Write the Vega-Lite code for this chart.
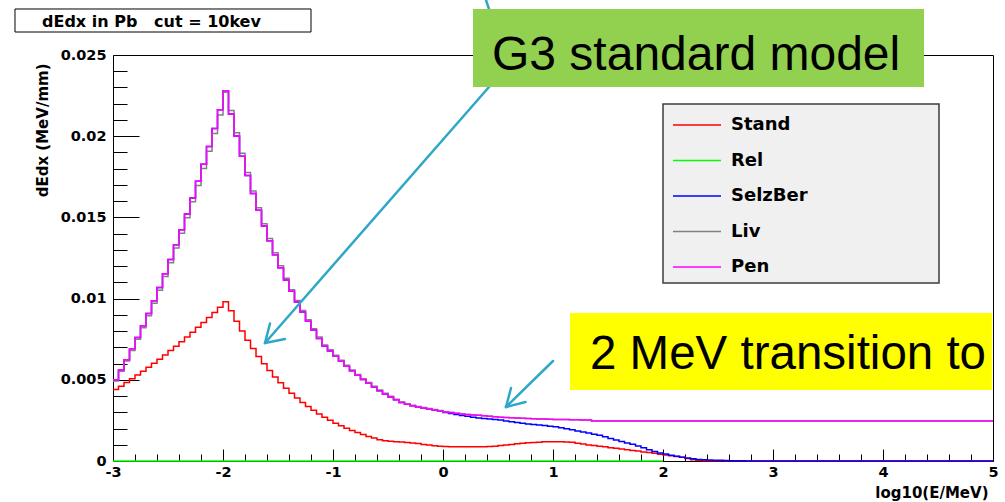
{
"$schema": "https://vega.github.io/schema/vega-lite/v6.json",
"width": 880, "height": 406,
"autosize": {"type": "none"},
"padding": {"left": 113, "top": 55, "right": 12, "bottom": 41},
"background": "#ffffff",
"config": {
  "view": {"stroke": "#000000", "strokeWidth": 1},
  "axis": {"grid": false, "domain": false, "tickColor": "#000000", "tickWidth": 1, "labelColor": "#000000", "titleColor": "#000000", "labelFont": "DejaVu Sans", "labelFontWeight": "bold", "labelFontSize": 14.5, "titleFont": "DejaVu Sans", "titleFontWeight": "bold", "titleFontSize": 15}
},
"datasets": {"h": [
{"x":-3,"Stand":0.0044,"Rel":0,"SelzBer":0.005,"Liv":0.00493,"Pen":0.005},
{"x":-2.95,"Stand":0.00461,"Rel":0,"SelzBer":0.00561,"Liv":0.00553,"Pen":0.00561},
{"x":-2.9,"Stand":0.00483,"Rel":0,"SelzBer":0.00624,"Liv":0.00615,"Pen":0.00624},
{"x":-2.85,"Stand":0.00506,"Rel":0,"SelzBer":0.00691,"Liv":0.00681,"Pen":0.00691},
{"x":-2.8,"Stand":0.00529,"Rel":0,"SelzBer":0.0076,"Liv":0.00749,"Pen":0.0076},
{"x":-2.75,"Stand":0.00553,"Rel":0,"SelzBer":0.00833,"Liv":0.00821,"Pen":0.00833},
{"x":-2.7,"Stand":0.00577,"Rel":0,"SelzBer":0.00908,"Liv":0.00894,"Pen":0.00908},
{"x":-2.65,"Stand":0.00602,"Rel":0,"SelzBer":0.00987,"Liv":0.00972,"Pen":0.00987},
{"x":-2.6,"Stand":0.00627,"Rel":0,"SelzBer":0.01068,"Liv":0.01052,"Pen":0.01068},
{"x":-2.55,"Stand":0.00653,"Rel":0,"SelzBer":0.01153,"Liv":0.01136,"Pen":0.01153},
{"x":-2.5,"Stand":0.0068,"Rel":0,"SelzBer":0.0124,"Liv":0.01221,"Pen":0.0124},
{"x":-2.45,"Stand":0.00707,"Rel":0,"SelzBer":0.01331,"Liv":0.01311,"Pen":0.01331},
{"x":-2.4,"Stand":0.00735,"Rel":0,"SelzBer":0.01424,"Liv":0.01403,"Pen":0.01424},
{"x":-2.35,"Stand":0.00764,"Rel":0,"SelzBer":0.01521,"Liv":0.01498,"Pen":0.01521},
{"x":-2.3,"Stand":0.00793,"Rel":0,"SelzBer":0.0162,"Liv":0.01596,"Pen":0.0162},
{"x":-2.25,"Stand":0.00823,"Rel":0,"SelzBer":0.01723,"Liv":0.01697,"Pen":0.01723},
{"x":-2.2,"Stand":0.00853,"Rel":0,"SelzBer":0.01828,"Liv":0.01801,"Pen":0.01828},
{"x":-2.15,"Stand":0.00884,"Rel":0,"SelzBer":0.01937,"Liv":0.01908,"Pen":0.01937},
{"x":-2.1,"Stand":0.00915,"Rel":0,"SelzBer":0.02048,"Liv":0.02017,"Pen":0.02048},
{"x":-2.05,"Stand":0.00947,"Rel":0,"SelzBer":0.02163,"Liv":0.02131,"Pen":0.02163},
{"x":-2,"Stand":0.0098,"Rel":0,"SelzBer":0.0228,"Liv":0.0227,"Pen":0.0228},
{"x":-1.95,"Stand":0.00925,"Rel":0,"SelzBer":0.02137,"Liv":0.02158,"Pen":0.02137},
{"x":-1.9,"Stand":0.0086,"Rel":0,"SelzBer":0.02002,"Liv":0.02022,"Pen":0.02002},
{"x":-1.85,"Stand":0.008,"Rel":0,"SelzBer":0.01876,"Liv":0.01895,"Pen":0.01876},
{"x":-1.8,"Stand":0.00744,"Rel":0,"SelzBer":0.01758,"Liv":0.01776,"Pen":0.01758},
{"x":-1.75,"Stand":0.00692,"Rel":0,"SelzBer":0.01647,"Liv":0.01663,"Pen":0.01647},
{"x":-1.7,"Stand":0.00644,"Rel":0,"SelzBer":0.01544,"Liv":0.01559,"Pen":0.01544},
{"x":-1.65,"Stand":0.00599,"Rel":0,"SelzBer":0.01447,"Liv":0.01461,"Pen":0.01447},
{"x":-1.6,"Stand":0.00557,"Rel":0,"SelzBer":0.01356,"Liv":0.0137,"Pen":0.01356},
{"x":-1.55,"Stand":0.00518,"Rel":0,"SelzBer":0.0127,"Liv":0.01283,"Pen":0.0127},
{"x":-1.5,"Stand":0.00482,"Rel":0,"SelzBer":0.0119,"Liv":0.01202,"Pen":0.0119},
{"x":-1.45,"Stand":0.00448,"Rel":0,"SelzBer":0.01115,"Liv":0.01126,"Pen":0.01115},
{"x":-1.4,"Stand":0.00417,"Rel":0,"SelzBer":0.01045,"Liv":0.01055,"Pen":0.01045},
{"x":-1.35,"Stand":0.00388,"Rel":0,"SelzBer":0.00979,"Liv":0.00989,"Pen":0.00979},
{"x":-1.3,"Stand":0.0036,"Rel":0,"SelzBer":0.00918,"Liv":0.00927,"Pen":0.00918},
{"x":-1.25,"Stand":0.00335,"Rel":0,"SelzBer":0.0086,"Liv":0.00869,"Pen":0.0086},
{"x":-1.2,"Stand":0.00312,"Rel":0,"SelzBer":0.00806,"Liv":0.00814,"Pen":0.00806},
{"x":-1.15,"Stand":0.0029,"Rel":0,"SelzBer":0.00755,"Liv":0.00763,"Pen":0.00755},
{"x":-1.1,"Stand":0.0027,"Rel":0,"SelzBer":0.00708,"Liv":0.00715,"Pen":0.00708},
{"x":-1.05,"Stand":0.00251,"Rel":0,"SelzBer":0.00678,"Liv":0.00685,"Pen":0.00678},
{"x":-1,"Stand":0.00233,"Rel":0,"SelzBer":0.00645,"Liv":0.00651,"Pen":0.00645},
{"x":-0.95,"Stand":0.00217,"Rel":0,"SelzBer":0.00614,"Liv":0.0062,"Pen":0.00614},
{"x":-0.9,"Stand":0.00202,"Rel":0,"SelzBer":0.00584,"Liv":0.0059,"Pen":0.00584},
{"x":-0.85,"Stand":0.00188,"Rel":0,"SelzBer":0.00555,"Liv":0.00561,"Pen":0.00555},
{"x":-0.8,"Stand":0.00175,"Rel":0,"SelzBer":0.00528,"Liv":0.00533,"Pen":0.00528},
{"x":-0.75,"Stand":0.00163,"Rel":0,"SelzBer":0.00502,"Liv":0.00507,"Pen":0.00502},
{"x":-0.7,"Stand":0.00151,"Rel":0,"SelzBer":0.00478,"Liv":0.00483,"Pen":0.00478},
{"x":-0.65,"Stand":0.00141,"Rel":0,"SelzBer":0.00455,"Liv":0.0046,"Pen":0.00455},
{"x":-0.6,"Stand":0.00131,"Rel":0,"SelzBer":0.00433,"Liv":0.00437,"Pen":0.00433},
{"x":-0.55,"Stand":0.00125,"Rel":0,"SelzBer":0.00413,"Liv":0.00417,"Pen":0.00413},
{"x":-0.5,"Stand":0.00122,"Rel":0,"SelzBer":0.00394,"Liv":0.00398,"Pen":0.00394},
{"x":-0.45,"Stand":0.00119,"Rel":0,"SelzBer":0.00377,"Liv":0.00381,"Pen":0.00377},
{"x":-0.4,"Stand":0.00117,"Rel":0,"SelzBer":0.0036,"Liv":0.00364,"Pen":0.0036},
{"x":-0.35,"Stand":0.00114,"Rel":0,"SelzBer":0.00349,"Liv":0.00352,"Pen":0.00349},
{"x":-0.3,"Stand":0.00111,"Rel":0,"SelzBer":0.0034,"Liv":0.00343,"Pen":0.0034},
{"x":-0.25,"Stand":0.00107,"Rel":0,"SelzBer":0.00333,"Liv":0.00336,"Pen":0.00333},
{"x":-0.2,"Stand":0.00102,"Rel":0,"SelzBer":0.00326,"Liv":0.00329,"Pen":0.00326},
{"x":-0.15,"Stand":0.00098,"Rel":0,"SelzBer":0.0032,"Liv":0.00323,"Pen":0.0032},
{"x":-0.1,"Stand":0.00094,"Rel":0,"SelzBer":0.00314,"Liv":0.00317,"Pen":0.00314},
{"x":-0.05,"Stand":0.00091,"Rel":0,"SelzBer":0.00308,"Liv":0.00311,"Pen":0.00308},
{"x":0,"Stand":0.00089,"Rel":0,"SelzBer":0.00298,"Liv":0.00304,"Pen":0.00302},
{"x":0.05,"Stand":0.00088,"Rel":0,"SelzBer":0.00293,"Liv":0.00298,"Pen":0.00298},
{"x":0.1,"Stand":0.00088,"Rel":0,"SelzBer":0.00287,"Liv":0.00294,"Pen":0.00294},
{"x":0.15,"Stand":0.00088,"Rel":0,"SelzBer":0.0028,"Liv":0.0029,"Pen":0.0029},
{"x":0.2,"Stand":0.00088,"Rel":0,"SelzBer":0.00275,"Liv":0.00287,"Pen":0.00287},
{"x":0.25,"Stand":0.00088,"Rel":0,"SelzBer":0.0027,"Liv":0.00284,"Pen":0.00284},
{"x":0.3,"Stand":0.00088,"Rel":0,"SelzBer":0.00265,"Liv":0.00281,"Pen":0.00281},
{"x":0.35,"Stand":0.00088,"Rel":0,"SelzBer":0.00261,"Liv":0.00278,"Pen":0.00278},
{"x":0.4,"Stand":0.00089,"Rel":0,"SelzBer":0.00258,"Liv":0.00276,"Pen":0.00276},
{"x":0.45,"Stand":0.00091,"Rel":0,"SelzBer":0.00255,"Liv":0.00273,"Pen":0.00273},
{"x":0.5,"Stand":0.00095,"Rel":0,"SelzBer":0.00252,"Liv":0.0027,"Pen":0.0027},
{"x":0.55,"Stand":0.00099,"Rel":0,"SelzBer":0.00247,"Liv":0.00268,"Pen":0.00268},
{"x":0.6,"Stand":0.00102,"Rel":0,"SelzBer":0.00242,"Liv":0.00266,"Pen":0.00266},
{"x":0.65,"Stand":0.00106,"Rel":0,"SelzBer":0.00237,"Liv":0.00265,"Pen":0.00265},
{"x":0.7,"Stand":0.00109,"Rel":0,"SelzBer":0.00232,"Liv":0.00263,"Pen":0.00263},
{"x":0.75,"Stand":0.00112,"Rel":0,"SelzBer":0.00228,"Liv":0.00261,"Pen":0.00261},
{"x":0.8,"Stand":0.00114,"Rel":0,"SelzBer":0.00225,"Liv":0.0026,"Pen":0.0026},
{"x":0.85,"Stand":0.00116,"Rel":0,"SelzBer":0.00222,"Liv":0.00259,"Pen":0.00259},
{"x":0.9,"Stand":0.00118,"Rel":0,"SelzBer":0.00218,"Liv":0.00258,"Pen":0.00258},
{"x":0.95,"Stand":0.00119,"Rel":0,"SelzBer":0.00214,"Liv":0.00257,"Pen":0.00257},
{"x":1,"Stand":0.00119,"Rel":0,"SelzBer":0.00211,"Liv":0.00256,"Pen":0.00256},
{"x":1.05,"Stand":0.00118,"Rel":0,"SelzBer":0.00205,"Liv":0.00256,"Pen":0.00256},
{"x":1.1,"Stand":0.00117,"Rel":0,"SelzBer":0.00199,"Liv":0.00255,"Pen":0.00255},
{"x":1.15,"Stand":0.00115,"Rel":0,"SelzBer":0.00192,"Liv":0.00254,"Pen":0.00254},
{"x":1.2,"Stand":0.0011,"Rel":0,"SelzBer":0.00185,"Liv":0.00254,"Pen":0.00254},
{"x":1.25,"Stand":0.00105,"Rel":0,"SelzBer":0.00179,"Liv":0.00253,"Pen":0.00253},
{"x":1.3,"Stand":0.00099,"Rel":0,"SelzBer":0.00172,"Liv":0.00252,"Pen":0.00252},
{"x":1.35,"Stand":0.00095,"Rel":0,"SelzBer":0.00165,"Liv":0.00246,"Pen":0.00246},
{"x":1.4,"Stand":0.00091,"Rel":0,"SelzBer":0.00158,"Liv":0.00246,"Pen":0.00246},
{"x":1.45,"Stand":0.00087,"Rel":0,"SelzBer":0.0015,"Liv":0.00246,"Pen":0.00246},
{"x":1.5,"Stand":0.00082,"Rel":0,"SelzBer":0.00139,"Liv":0.00246,"Pen":0.00246},
{"x":1.55,"Stand":0.00078,"Rel":0,"SelzBer":0.00129,"Liv":0.00246,"Pen":0.00246},
{"x":1.6,"Stand":0.00074,"Rel":0,"SelzBer":0.0012,"Liv":0.00246,"Pen":0.00246},
{"x":1.65,"Stand":0.00069,"Rel":0,"SelzBer":0.00111,"Liv":0.00246,"Pen":0.00246},
{"x":1.7,"Stand":0.00065,"Rel":0,"SelzBer":0.00103,"Liv":0.00246,"Pen":0.00246},
{"x":1.75,"Stand":0.00061,"Rel":0,"SelzBer":0.00093,"Liv":0.00246,"Pen":0.00246},
{"x":1.8,"Stand":0.00056,"Rel":0,"SelzBer":0.00081,"Liv":0.00246,"Pen":0.00246},
{"x":1.85,"Stand":0.00052,"Rel":0,"SelzBer":0.00069,"Liv":0.00246,"Pen":0.00246},
{"x":1.9,"Stand":0.00047,"Rel":0,"SelzBer":0.00059,"Liv":0.00246,"Pen":0.00246},
{"x":1.95,"Stand":0.00042,"Rel":0,"SelzBer":0.0005,"Liv":0.00246,"Pen":0.00246},
{"x":2,"Stand":0.00037,"Rel":0,"SelzBer":0.00043,"Liv":0.00246,"Pen":0.00246},
{"x":2.05,"Stand":0.00032,"SelzBer":0.00036,"Liv":0.00246,"Pen":0.00246},
{"x":2.1,"Stand":0.00027,"SelzBer":0.00029,"Liv":0.00246,"Pen":0.00246},
{"x":2.15,"Stand":0.00023,"SelzBer":0.00023,"Liv":0.00246,"Pen":0.00246},
{"x":2.2,"Stand":0.00015,"SelzBer":0.00018,"Liv":0.00246,"Pen":0.00246},
{"x":2.25,"Stand":0.00008,"SelzBer":0.00014,"Liv":0.00246,"Pen":0.00246},
{"x":2.3,"Stand":0.00004,"SelzBer":0.0001,"Liv":0.00246,"Pen":0.00246},
{"x":2.35,"Stand":0.00002,"SelzBer":0.00008,"Liv":0.00246,"Pen":0.00246},
{"x":2.4,"Stand":0.00001,"SelzBer":0.00006,"Liv":0.00246,"Pen":0.00246},
{"x":2.45,"Stand":0.00001,"SelzBer":0.00005,"Liv":0.00246,"Pen":0.00246},
{"x":2.5,"Stand":0.00001,"SelzBer":0.00004,"Liv":0.00246,"Pen":0.00246},
{"x":2.55,"Stand":0.00001,"SelzBer":0.00003,"Liv":0.00246,"Pen":0.00246},
{"x":2.6,"Stand":0.00001,"SelzBer":0.00002,"Liv":0.00246,"Pen":0.00246},
{"x":2.65,"Stand":0.00001,"SelzBer":0.00002,"Liv":0.00246,"Pen":0.00246},
{"x":2.7,"Stand":0.00001,"SelzBer":0.00001,"Liv":0.00246,"Pen":0.00246},
{"x":2.75,"Stand":0,"SelzBer":0,"Liv":0.00246,"Pen":0.00246},
{"x":5,"Stand":0,"SelzBer":0,"Liv":0.00246,"Pen":0.00246}
]},
"resolve": {"axis": {"x": "independent", "y": "independent"}},
"layer": [
  {
    "data": {"name": "h"},
    "transform": [
      {"fold": ["Stand", "Rel", "SelzBer", "Liv", "Pen"], "as": ["series", "dEdx"]},
      {"filter": "isValid(datum.dEdx)"}
    ],
    "mark": {"type": "line", "interpolate": "step-after", "strokeWidth": 1.5},
    "encoding": {
      "x": {"field": "x", "type": "quantitative",
        "scale": {"domain": [-3, 5], "nice": false, "zero": false},
        "axis": {"orient": "bottom", "values": [-3, -2, -1, 0, 1, 2, 3, 4, 5], "labelExpr": "datum.value + ''", "tickSize": -12, "labelPadding": 16, "labelFlush": false, "labelOverlap": false,
          "title": "log10(E/MeV)", "titleAnchor": "end", "titleAlign": "right", "titleBaseline": "middle", "titleX": 875, "titleY": 31}},
      "y": {"field": "dEdx", "type": "quantitative",
        "scale": {"domain": [0, 0.025], "nice": false, "zero": false},
        "axis": {"orient": "left", "values": [0, 0.005, 0.01, 0.015, 0.02, 0.025], "format": ".3~f", "tickSize": -26, "labelPadding": 33, "labelFlush": false, "labelOverlap": false,
          "title": "dEdx (MeV/mm)", "titleAngle": 270, "titleAlign": "right", "titleBaseline": "middle", "titleX": -71, "titleY": 8}},
      "color": {"field": "series", "type": "nominal",
        "scale": {"domain": ["Stand", "Rel", "SelzBer", "Liv", "Pen"], "range": ["#ff0000", "#00ff00", "#0000ff", "#808080", "#ff00ff"]},
        "legend": {"orient": "none", "legendX": 550, "legendY": 51, "title": null,
          "symbolType": "M-2,0H2", "symbolSize": 576, "symbolStrokeWidth": 1.5, "symbolOffset": 15,
          "labelOffset": 21, "labelFont": "DejaVu Sans", "labelFontWeight": "bold", "labelFontSize": 18, "labelColor": "#000000", "labelLimit": 600,
          "rowPadding": 13.5, "padding": 6}}
    }
  },
  {
    "data": {"values": [{}]},
    "mark": {"type": "point", "opacity": 0},
    "encoding": {
      "x": {"datum": 0, "type": "quantitative",
        "axis": {"orient": "bottom", "values": [-2.8, -2.6, -2.4, -2.2, -1.8, -1.6, -1.4, -1.2, -0.8, -0.6, -0.4, -0.2, 0.2, 0.4, 0.6, 0.8, 1.2, 1.4, 1.6, 1.8, 2.2, 2.4, 2.6, 2.8, 3.2, 3.4, 3.6, 3.8, 4.2, 4.4, 4.6, 4.8], "tickSize": -7, "labels": false, "title": null}},
      "y": {"datum": 0, "type": "quantitative",
        "axis": {"orient": "left", "values": [0.001, 0.002, 0.003, 0.004, 0.006, 0.007, 0.008, 0.009, 0.011, 0.012, 0.013, 0.014, 0.016, 0.017, 0.018, 0.019, 0.021, 0.022, 0.023, 0.024], "tickSize": -14, "labels": false, "title": null}}
    }
  },
  {
    "data": {"values": [{}]},
    "mark": {"type": "rect", "fill": "#f0f0f0", "stroke": "#3c3c3c", "strokeWidth": 1.5},
    "encoding": {"x": {"datum": 2.0, "type": "quantitative", "axis": null}, "x2": {"datum": 4.50909}, "y": {"datum": 0.021983, "type": "quantitative", "axis": null}, "y2": {"datum": 0.010961}}
  },
  {
    "data": {"values": [{}]},
    "mark": {"type": "rule", "stroke": "#2fa8c8", "strokeWidth": 2.5, "strokeCap": "round"},
    "encoding": {"x": {"datum": 0.41818, "type": "quantitative", "axis": null}, "y": {"datum": 0.02303, "type": "quantitative", "axis": null}, "x2": {"datum": -1.61818}, "y2": {"datum": 0.007266}}
  },
  {
    "data": {"values": [{}]},
    "mark": {"type": "rule", "stroke": "#2fa8c8", "strokeWidth": 2.5, "strokeCap": "round"},
    "encoding": {"x": {"datum": -1.61818, "type": "quantitative", "axis": null}, "y": {"datum": 0.007266, "type": "quantitative", "axis": null}, "x2": {"datum": -1.57273}, "y2": {"datum": 0.008467}}
  },
  {
    "data": {"values": [{}]},
    "mark": {"type": "rule", "stroke": "#2fa8c8", "strokeWidth": 2.5, "strokeCap": "round"},
    "encoding": {"x": {"datum": -1.61818, "type": "quantitative", "axis": null}, "y": {"datum": 0.007266, "type": "quantitative", "axis": null}, "x2": {"datum": -1.43636}, "y2": {"datum": 0.007512}}
  },
  {
    "data": {"values": [{}]},
    "mark": {"type": "rule", "stroke": "#2fa8c8", "strokeWidth": 2.5, "strokeCap": "round"},
    "encoding": {"x": {"datum": 0.39091, "type": "quantitative", "axis": null}, "y": {"datum": 0.028387, "type": "quantitative", "axis": null}, "x2": {"datum": 0.41818}, "y2": {"datum": 0.027833}}
  },
  {
    "data": {"values": [{}]},
    "mark": {"type": "rule", "stroke": "#2fa8c8", "strokeWidth": 2.5, "strokeCap": "round"},
    "encoding": {"x": {"datum": 1.0, "type": "quantitative", "axis": null}, "y": {"datum": 0.006158, "type": "quantitative", "axis": null}, "x2": {"datum": 0.57273}, "y2": {"datum": 0.003325}}
  },
  {
    "data": {"values": [{}]},
    "mark": {"type": "rule", "stroke": "#2fa8c8", "strokeWidth": 2.5, "strokeCap": "round"},
    "encoding": {"x": {"datum": 0.57273, "type": "quantitative", "axis": null}, "y": {"datum": 0.003325, "type": "quantitative", "axis": null}, "x2": {"datum": 0.61818}, "y2": {"datum": 0.004495}}
  },
  {
    "data": {"values": [{}]},
    "mark": {"type": "rule", "stroke": "#2fa8c8", "strokeWidth": 2.5, "strokeCap": "round"},
    "encoding": {"x": {"datum": 0.57273, "type": "quantitative", "axis": null}, "y": {"datum": 0.003325, "type": "quantitative", "axis": null}, "x2": {"datum": 0.75}, "y2": {"datum": 0.003633}}
  },
  {
    "data": {"values": [{}]},
    "mark": {"type": "rect", "fill": "#ffffff", "stroke": "#000000", "strokeWidth": 1},
    "encoding": {"x": {"datum": -3.89091, "type": "quantitative", "axis": null}, "x2": {"datum": -1.2}, "y": {"datum": 0.027833, "type": "quantitative", "axis": null}, "y2": {"datum": 0.026416}}
  },
  {
    "data": {"values": [{}]},
    "mark": {"type": "text", "font": "DejaVu Sans", "fontWeight": "bold", "fontSize": 16, "align": "left", "baseline": "alphabetic", "color": "#000000"},
    "encoding": {"x": {"datum": -3.64545, "type": "quantitative", "axis": null}, "y": {"datum": 0.026724, "type": "quantitative", "axis": null}, "text": {"value": "dEdx in Pb\u00a0\u00a0\u00a0cut = 10kev"}}
  },
  {
    "data": {"values": [{}]},
    "mark": {"type": "rect", "fill": "#92d050", "strokeWidth": 0},
    "encoding": {"x": {"datum": 0.27273, "type": "quantitative", "axis": null}, "x2": {"datum": 4.37273}, "y": {"datum": 0.027832, "type": "quantitative", "axis": null}, "y2": {"datum": 0.02303}}
  },
  {
    "data": {"values": [{}]},
    "mark": {"type": "text", "font": "Liberation Sans", "fontSize": 48, "align": "left", "baseline": "alphabetic", "color": "#000000"},
    "encoding": {"x": {"datum": 0.44545, "type": "quantitative", "axis": null}, "y": {"datum": 0.024107, "type": "quantitative", "axis": null}, "text": {"value": "G3 standard model"}}
  },
  {
    "data": {"values": [{}]},
    "mark": {"type": "rect", "fill": "#ffff00", "strokeWidth": 0},
    "encoding": {"x": {"datum": 1.15455, "type": "quantitative", "axis": null}, "x2": {"datum": 4.99}, "y": {"datum": 0.009113, "type": "quantitative", "axis": null}, "y2": {"datum": 0.004372}}
  },
  {
    "data": {"values": [{}]},
    "mark": {"type": "text", "font": "Liberation Sans", "fontSize": 47.5, "align": "left", "baseline": "alphabetic", "color": "#000000"},
    "encoding": {"x": {"datum": 1.33636, "type": "quantitative", "axis": null}, "y": {"datum": 0.005665, "type": "quantitative", "axis": null}, "text": {"value": "2 MeV transition to"}}
  }
]
}
